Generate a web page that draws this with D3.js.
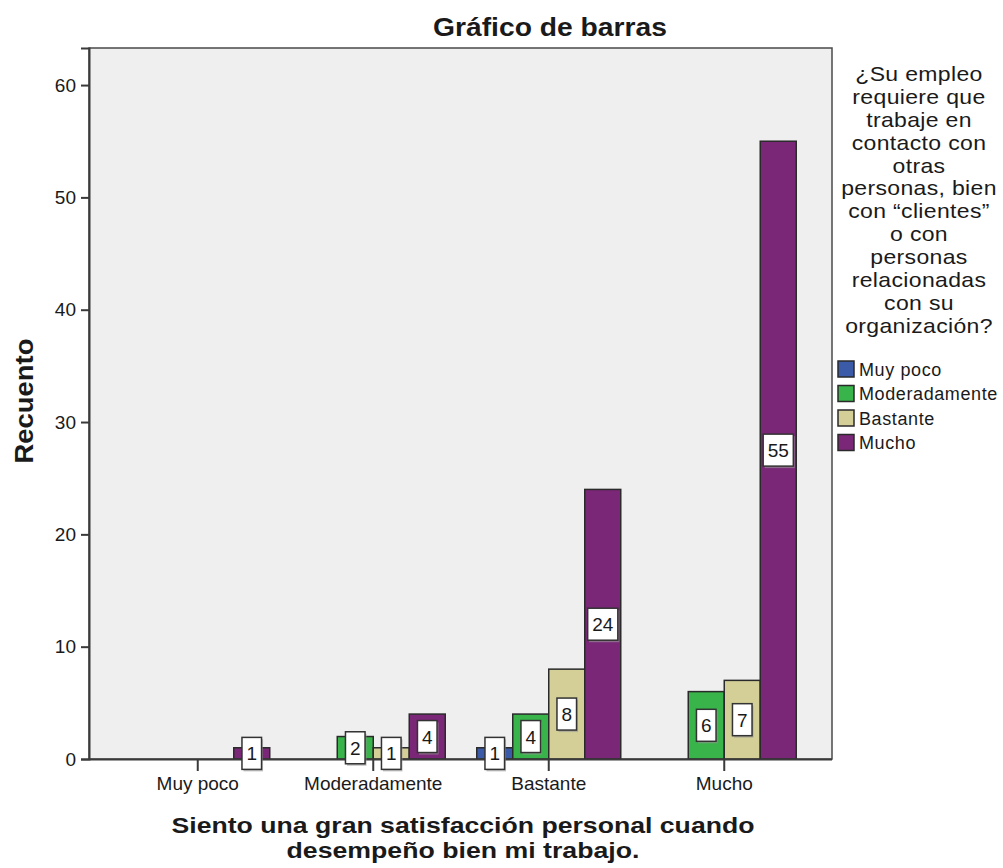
<!DOCTYPE html>
<html><head><meta charset="utf-8">
<script src="https://cdn.jsdelivr.net/npm/d3@7"></script>
<style>body{margin:0;background:#fff}svg{display:block}text{font-family:"Liberation Sans",Arial,sans-serif;fill:#1a1a1a}</style>
</head><body>
<svg id="c" width="1003" height="868"></svg>
<script>
const categories = ["Muy poco", "Moderadamente", "Bastante", "Mucho"];
const seriesNames = ["Muy poco", "Moderadamente", "Bastante", "Mucho"];
const seriesColors = ["#3b5ba9", "#38b44a", "#d4cf97", "#7b2777"];
const valsMuyPoco = [0, 0, 1, 0];        // series "Muy poco" per category
const valsModeradamente = [0, 2, 4, 6];  // series "Moderadamente"
const valsBastante = [0, 1, 8, 7];       // series "Bastante"
const valsMucho = [1, 4, 24, 55];        // series "Mucho"
const yTicks = [0, 10, 20, 30, 40, 50, 60];
const titleText = "Gráfico de barras";
const yTitle = "Recuento";
const xTitleLines = ["Siento una gran satisfacción personal cuando", "desempeño bien mi trabajo."];
const legendTitleLines = ["¿Su empleo", "requiere que", "trabaje en", "contacto con", "otras", "personas, bien", "con “clientes”", "o con", "personas", "relacionadas", "con su", "organización?"];

const seriesVals = [valsMuyPoco, valsModeradamente, valsBastante, valsMucho];
const svg = d3.select("#c");
const L = 89, R = 832, T = 48, B = 759;

const y = d3.scaleLinear().domain([0, 63.3]).range([B, T]);
const x = d3.scaleBand().domain(categories).range([110, 812]).padding(0);
const groupW = 144;
const xs = d3.scaleBand().domain(seriesNames).range([0, groupW]).padding(0);

// plot background
svg.append("rect").attr("x", L).attr("y", T).attr("width", R - L).attr("height", B - T)
  .attr("fill", "#efefef").attr("stroke", "#4a4a4a").attr("stroke-width", 1.5);

// y axis
const yAxis = svg.append("g").attr("transform", `translate(${L},0)`)
  .call(d3.axisLeft(y).tickValues(yTicks).tickSize(8).tickPadding(5).tickFormat(d3.format("d")));
yAxis.select(".domain").attr("stroke", "#3a3a3a").attr("stroke-width", 2);
yAxis.selectAll(".tick line").attr("stroke", "#3a3a3a").attr("stroke-width", 2);
yAxis.selectAll("text").style("font-size", "19px").style("font-family", "Liberation Sans, Arial").attr("fill", "#1a1a1a");

// bars
const data = [];
categories.forEach((c, ci) => seriesNames.forEach((s, si) => {
  const v = seriesVals[si][ci];
  if (v > 0) data.push({c, s, si, v});
}));
const gx = d => x(d.c) + x.bandwidth() / 2 - groupW / 2 + xs(d.s);
svg.append("g").selectAll("rect").data(data).join("rect")
  .attr("x", gx).attr("y", d => y(d.v)).attr("width", xs.bandwidth()).attr("height", d => y(0) - y(d.v))
  .attr("fill", d => seriesColors[d.si]).attr("stroke", "#2a2a2a").attr("stroke-width", 1.5);

// x axis
const xAxis = svg.append("g").attr("transform", `translate(0,${B})`)
  .call(d3.axisBottom(x).tickSize(12).tickPadding(6));
xAxis.select(".domain").attr("d", `M${L},0.5H${R}`).attr("stroke", "#3a3a3a").attr("stroke-width", 2);
xAxis.selectAll(".tick line").attr("stroke", "#3a3a3a").attr("stroke-width", 2);
xAxis.selectAll("text").style("font-size", "19px").style("font-family", "Liberation Sans, Arial").attr("fill", "#1a1a1a");

// value labels
const lg = svg.append("g");
data.forEach(d => {
  const cx = gx(d) + xs.bandwidth() / 2;
  const cy = (y(d.v) + y(0)) / 2;
  const g = lg.append("g");
  const t = g.append("text").attr("x", cx).attr("y", cy + 7).attr("text-anchor", "middle")
    .style("font-size", "19px").text(d.v);
  const w = t.node().getComputedTextLength() + 9;
  g.insert("rect", "text").attr("x", cx - w / 2 + 1.5).attr("y", cy - 16 + 2).attr("width", w).attr("height", 32)
    .attr("fill", "#9a9a9a").attr("opacity", 0.6);
  g.insert("rect", "text").attr("x", cx - w / 2).attr("y", cy - 16).attr("width", w).attr("height", 32)
    .attr("fill", "#fff").attr("stroke", "#333").attr("stroke-width", 1.5);
});

// titles
svg.append("text").attr("x", 550).attr("y", 36).attr("text-anchor", "middle")
  .attr("textLength", 234).attr("lengthAdjust", "spacingAndGlyphs")
  .style("font-size", "26px").style("font-weight", "bold").text(titleText);
svg.append("text").attr("transform", "translate(33,401) rotate(-90)").attr("text-anchor", "middle")
  .attr("textLength", 125).attr("lengthAdjust", "spacingAndGlyphs")
  .style("font-size", "26px").style("font-weight", "bold").text(yTitle);
const xtLen = [583, 353];
svg.append("g").selectAll("text").data(xTitleLines).join("text")
  .attr("x", 463).attr("y", (d, i) => 833 + i * 24.5).attr("text-anchor", "middle")
  .attr("textLength", (d, i) => xtLen[i]).attr("lengthAdjust", "spacingAndGlyphs")
  .style("font-size", "21.5px").style("font-weight", "bold").text(d => d);

// legend
svg.append("g").attr("transform", "translate(919,0) scale(1.15,1)")
  .selectAll("text").data(legendTitleLines).join("text")
  .attr("x", 0).attr("y", (d, i) => 81 + i * 22.9).attr("text-anchor", "middle")
  .style("font-size", "20px").style("letter-spacing", "0.3px").text(d => d);
const leg = svg.append("g").selectAll("g").data(seriesNames).join("g")
  .attr("transform", (d, i) => `translate(838,${361 + i * 24.5})`);
leg.append("rect").attr("width", 16).attr("height", 16).attr("fill", (d, i) => seriesColors[i])
  .attr("stroke", "#2a2a2a").attr("stroke-width", 1.5);
leg.append("text").attr("x", 21).attr("y", 14.5).style("font-size", "18px").style("letter-spacing", "0.6px").text(d => d);
</script>
</body></html>
